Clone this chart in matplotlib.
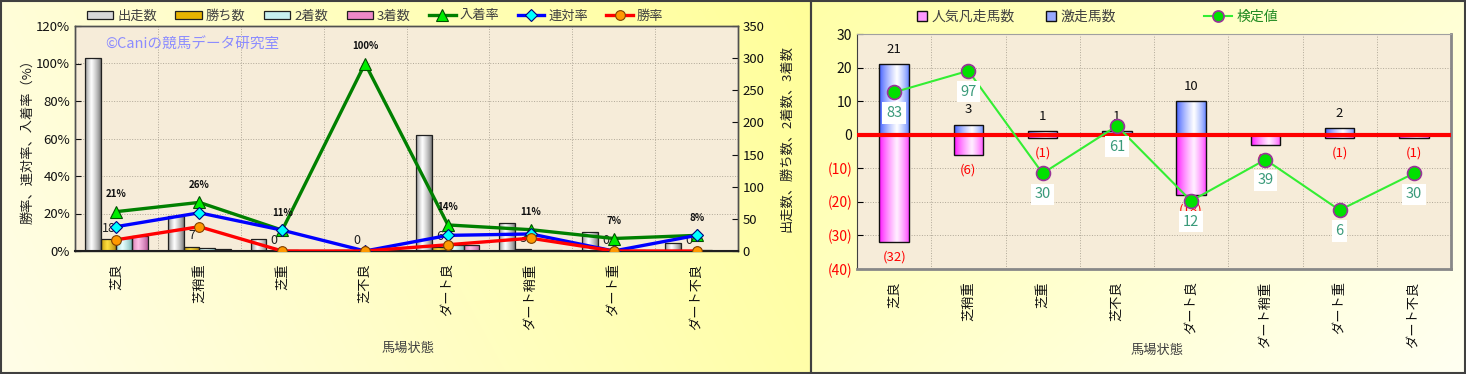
import numpy as np
import matplotlib
matplotlib.use('Agg')
import matplotlib.pyplot as plt
from matplotlib.lines import Line2D
from matplotlib.patches import Patch, Rectangle
from matplotlib.colors import to_rgb

plt.rcParams['font.family'] = ['Noto Sans CJK JP', 'DejaVu Sans']

# ---------------- data ----------------
categories = ['芝良', '芝稍重', '芝重', '芝不良', 'ダート良', 'ダート稍重', 'ダート重', 'ダート不良']
runs = [300, 54, 18, 1, 180, 44, 30, 12]      # 出走数
wins = [18, 7, 0, 0, 6, 3, 0, 0]              # 勝ち数
seconds = [21, 4, 2, 0, 9, 1, 0, 1]           # 2着数
thirds = [24, 3, 0, 1, 10, 1, 2, 0]           # 3着数

gekisou = [21, 3, 1, 1, 10, 0, 2, 0]          # 激走馬数
bonsou = [32, 6, 1, 0, 18, 3, 1, 1]           # 人気凡走馬数 (plotted negative)
kentei = [83, 97, 30, 61, 12, 39, 6, 30]      # 検定値

left_ticks = [0, 20, 40, 60, 80, 100, 120]
right_ticks = [0, 50, 100, 150, 200, 250, 300, 350]
r_ticks = [-40, -30, -20, -10, 0, 10, 20, 30]

W, H = 1466, 374
fig = plt.figure(figsize=(W / 100, H / 100), dpi=100)
PARCH = '#f6ecd9'
TXT = '#404040'

# ---------------- background ----------------
bg = fig.add_axes([0, 0, 1, 1], zorder=-10)
yy, xx = np.mgrid[0:H, 0:W].astype(float)
c_a = np.array(to_rgb('#fffde8')); c_b = np.array(to_rgb('#ffff99'))
tl = np.clip(0.8 * xx / 811 + 0.2 * (1 - yy / H), 0, 1)
left_col = c_a * (1 - tl[..., None]) + c_b * tl[..., None]
c_c = np.array(to_rgb('#ffffa8')); c_d = np.array(to_rgb('#fffff2'))
tr = np.clip(0.6 * (xx - 811) / 655 + 0.4 * yy / H, 0, 1)
right_col = c_c * (1 - tr[..., None]) + c_d * tr[..., None]
img = np.where((xx < 811)[..., None], left_col, right_col)
bg.imshow(img, extent=[0, W, H, 0], aspect='auto')
bg.add_patch(Rectangle((1, 1), 810, H - 2.5, fill=False, ec='#404040', lw=1.5))
bg.add_patch(Rectangle((811, 1), W - 812.5, H - 2.5, fill=False, ec='#404040', lw=1.5))
bg.set_xlim(0, W); bg.set_ylim(H, 0); bg.axis('off')


def fax(x0, y0, x1, y1):
    return [x0 / W, 1 - y1 / H, (x1 - x0) / W, (y1 - y0) / H]


def shade(ax, bar, c_edge, c_mid, peak, z, c_edge2=None):
    x0, y0 = bar.get_x(), bar.get_y()
    w, h = bar.get_width(), bar.get_height()
    if h == 0:
        return
    t = np.linspace(0, 1, 60)
    f = np.where(t < peak, t / peak, (1 - t) / (1 - peak))
    f = np.clip(f, 0, 1) ** 0.7
    e1 = np.array(to_rgb(c_edge))
    e2 = np.array(to_rgb(c_edge2 if c_edge2 else c_edge))
    m = np.array(to_rgb(c_mid))
    e = np.where((t < peak)[:, None], e1[None, :], e2[None, :])
    cols = e * (1 - f[:, None]) + m[None, :] * f[:, None]
    im = ax.imshow(cols[None], extent=[x0, x0 + w, y0, y0 + h], aspect='auto',
                   interpolation='bilinear', zorder=z)
    im.set_clip_path(bar)


x = np.arange(len(categories))

# ================= LEFT CHART =================
ax1 = fig.add_axes(fax(75, 26, 738, 251))
ax2 = ax1.twinx()
ax1.set_zorder(2); ax2.set_zorder(1)
ax1.patch.set_visible(False)
ax2.patch.set_visible(True); ax2.patch.set_facecolor(PARCH)

# grid on ax2 (behind bars)
for k in range(1, len(left_ticks) - 1):
    ax2.axhline(350 * left_ticks[k] / 120, color='#b0a898', lw=0.7, ls=':', zorder=0.5)
for b in x[:-1] + 0.5:
    ax2.axvline(b, color='#b0a898', lw=0.7, ls=':', zorder=0.5)

bw = 0.19
bar_series = [
    (runs, '#808080', '#ffffff', '#707070', '出走数'),
    (wins, '#b88a00', '#ffe040', '#a07000', '勝ち数'),
    (seconds, '#88c8c8', '#e8ffff', '#70b0b0', '2着数'),
    (thirds, '#d070a8', '#ffc0e8', '#b05090', '3着数'),
]
win_bars = None
for i, (vals, ce, cm, ce2, lab) in enumerate(bar_series):
    bars = ax2.bar(x + (i - 1.5) * bw, vals, bw, facecolor='none',
                   edgecolor='#202020', lw=0.9, zorder=3)
    for b in bars:
        shade(ax2, b, ce, cm, 0.4, 2.5, ce2)
    if i == 1:
        win_bars = x + (i - 1.5) * bw

for xi, v in zip(win_bars, wins):
    ax2.annotate(str(v), (xi, v), xytext=(0, 3), textcoords='offset points',
                 ha='center', va='bottom', fontsize=9, color='#202020', zorder=6)

runs_a = np.array(runs, float)
win_rate = np.array(wins) / runs_a * 100
ren_rate = (np.array(wins) + np.array(seconds)) / runs_a * 100
fuku_rate = (np.array(wins) + np.array(seconds) + np.array(thirds)) / runs_a * 100

ax1.plot(x, fuku_rate, color='#008000', lw=2.4, marker='^', ms=9,
         mfc='#00ee00', mec='#005000', mew=0.8, zorder=5, label='入着率')
ax1.plot(x, ren_rate, color='#0000ff', lw=2.4, marker='D', ms=6,
         mfc='#00ffff', mec='#000080', mew=0.8, zorder=5, label='連対率')
ax1.plot(x, win_rate, color='#ff0000', lw=2.4, marker='o', ms=7,
         mfc='#ff9900', mec='#804000', mew=0.8, zorder=5, label='勝率')
for xi, v in zip(x, fuku_rate):
    ax1.annotate(f'{v:.0f}%', (xi, v), xytext=(0, 9), textcoords='offset points',
                 ha='center', va='bottom', fontsize=7, fontweight='bold',
                 color='#101010', zorder=6)

ax1.text(0.045, 0.915, '©Caniの競馬データ研究室', transform=ax1.transAxes,
         fontsize=10.5, color='#8c8cff', ha='left', va='center', zorder=6)

ax1.set_xlim(-0.5, len(categories) - 0.5)
ax1.set_ylim(0, 120)
ax2.set_ylim(0, 350)
ax1.set_yticks(left_ticks, [f'{v}%' for v in left_ticks])
ax2.set_yticks(right_ticks, [str(v) for v in right_ticks])
ax1.set_xticks(x, categories, rotation=90)
ax1.tick_params(axis='x', length=0, pad=9, labelsize=9.5, colors='#101010')
ax1.tick_params(axis='y', direction='in', length=4, labelsize=9.5, colors='#101010')
ax2.tick_params(axis='y', direction='in', length=4, labelsize=9.5, colors='#101010')
for ax in (ax1, ax2):
    for s in ax.spines.values():
        s.set_color('#505050'); s.set_linewidth(1.0)
ax1.spines['bottom'].set_color('#202020'); ax1.spines['bottom'].set_linewidth(1.5)
ax1.set_ylabel('勝率、連対率、入着率（%）', fontsize=9.5, color='#202020', labelpad=1)
ax2.set_ylabel('出走数、勝ち数、2着数、3着数', fontsize=9.5, color='#202020',
               rotation=90, labelpad=11)
fig.text(408 / W, 1 - 348 / H, '馬場状態', fontsize=9.5, color=TXT, ha='center', va='center')

handles = [
    Patch(facecolor='#d8d8d8', edgecolor='#202020', lw=0.9),
    Patch(facecolor='#e8b400', edgecolor='#202020', lw=0.9),
    Patch(facecolor='#c8f0f0', edgecolor='#202020', lw=0.9),
    Patch(facecolor='#ee88c8', edgecolor='#202020', lw=0.9),
]
line_h = ax1.get_lines()[:3]
leg1 = fig.legend(handles + list(line_h), [s[4] for s in bar_series] + ['入着率', '連対率', '勝率'],
                  loc='center', bbox_to_anchor=(375 / W, 1 - 16 / H), ncol=7, frameon=False,
                  fontsize=9.5, handlelength=2.0, handleheight=0.55, columnspacing=1.4,
                  handletextpad=0.3, labelcolor=TXT)

# ================= RIGHT CHART =================
ax3 = fig.add_axes(fax(857, 34, 1451, 269))
ax3.set_facecolor(PARCH)
ax3.set_axisbelow(True)
for b in x[:-1] + 0.5:
    ax3.axvline(b, color='#b0a898', lw=0.7, ls=':', zorder=0.5)
ax3.yaxis.grid(True, color='#b0a898', lw=0.7, ls=':')

rb = 0.4
pos_bars = ax3.bar(x, gekisou, rb, facecolor='none', edgecolor='#101010', lw=1.0, zorder=3)
neg_bars = ax3.bar(x, -np.array(bonsou), rb, facecolor='none', edgecolor='#101010', lw=1.0, zorder=3)
for b in pos_bars:
    shade(ax3, b, '#3050ff', '#ffffff', 0.6, 2.5, '#6080ff')
for b in neg_bars:
    shade(ax3, b, '#ff00ff', '#fff0ff', 0.6, 2.5, '#ff40ff')
ax3.axhline(0, color='#ff0000', lw=3, zorder=4)

for xi, v in zip(x, gekisou):
    if v:
        ax3.annotate(str(v), (xi, v), xytext=(0, 6), textcoords='offset points',
                     ha='center', va='bottom', fontsize=9.5, color='#101010', zorder=6)
for xi, v in zip(x, bonsou):
    if v:
        ax3.annotate(f'({v})', (xi, -v), xytext=(0, -6), textcoords='offset points',
                     ha='center', va='top', fontsize=9.5, color='#ff0000', zorder=6)

ax4 = ax3.twinx()
ax4.set_ylim(-32.46, 121.05)
ax4.set_yticks([])
for s in ax4.spines.values():
    s.set_visible(False)
ax4.plot(x, kentei, color='#33ee33', lw=1.5, marker='o', ms=10, mfc='#00e000',
         mec='#993399', mew=1.2, zorder=5)
for xi, v in zip(x, kentei):
    ax4.annotate(str(v), (xi, v), xytext=(0, -15), textcoords='offset points',
                 ha='center', va='center', fontsize=10.5, color='#3a9a7a', zorder=6,
                 bbox=dict(boxstyle='square,pad=0.25', fc='white', ec='none'))

ax3.set_xlim(-0.5, len(categories) - 0.5)
ax3.set_ylim(-40, 30)
ax3.set_yticks(r_ticks, [f'({-v})' if v < 0 else str(v) for v in r_ticks])
for lbl, v in zip(ax3.get_yticklabels(), r_ticks):
    lbl.set_color('#ff0000' if v < 0 else '#101010')
ax3.set_xticks(x, categories, rotation=90)
ax3.tick_params(axis='x', length=0, pad=9, labelsize=9.5, colors='#101010')
ax3.tick_params(axis='y', direction='in', length=4, labelsize=10)
ax3.spines['left'].set_color('#404040')
ax3.spines['top'].set_color('#a0a0a0')
ax3.spines['right'].set_color('#888888'); ax3.spines['right'].set_linewidth(2)
ax3.spines['bottom'].set_color('#888888'); ax3.spines['bottom'].set_linewidth(2)
fig.text(1157 / W, 1 - 350 / H, '馬場状態', fontsize=9.5, color=TXT, ha='center', va='center')

h_bon = Line2D([], [], ls='none', marker='s', ms=7, mfc='#ff99ff', mec='#101010', mew=1.0)
h_gek = Line2D([], [], ls='none', marker='s', ms=7, mfc='#99aaff', mec='#101010', mew=1.0)
leg2 = fig.legend([h_bon, h_gek], ['人気凡走馬数', '激走馬数'], loc='center',
                  bbox_to_anchor=(1016 / W, 1 - 17 / H), ncol=2, frameon=False,
                  fontsize=10, handlelength=0.8, handletextpad=0.3, columnspacing=2.2,
                  labelcolor=TXT)
h_ken = Line2D([], [], color='#33ee33', lw=1.5, marker='o', ms=8, mfc='#00e000',
               mec='#993399', mew=1.2)
leg3 = fig.legend([h_ken], ['検定値'], loc='center', bbox_to_anchor=(1241 / W, 1 - 17 / H),
                  frameon=False, fontsize=10, handlelength=2.0, handletextpad=0.3,
                  labelcolor='#228b22')

fig.savefig('out.png', dpi=100)
